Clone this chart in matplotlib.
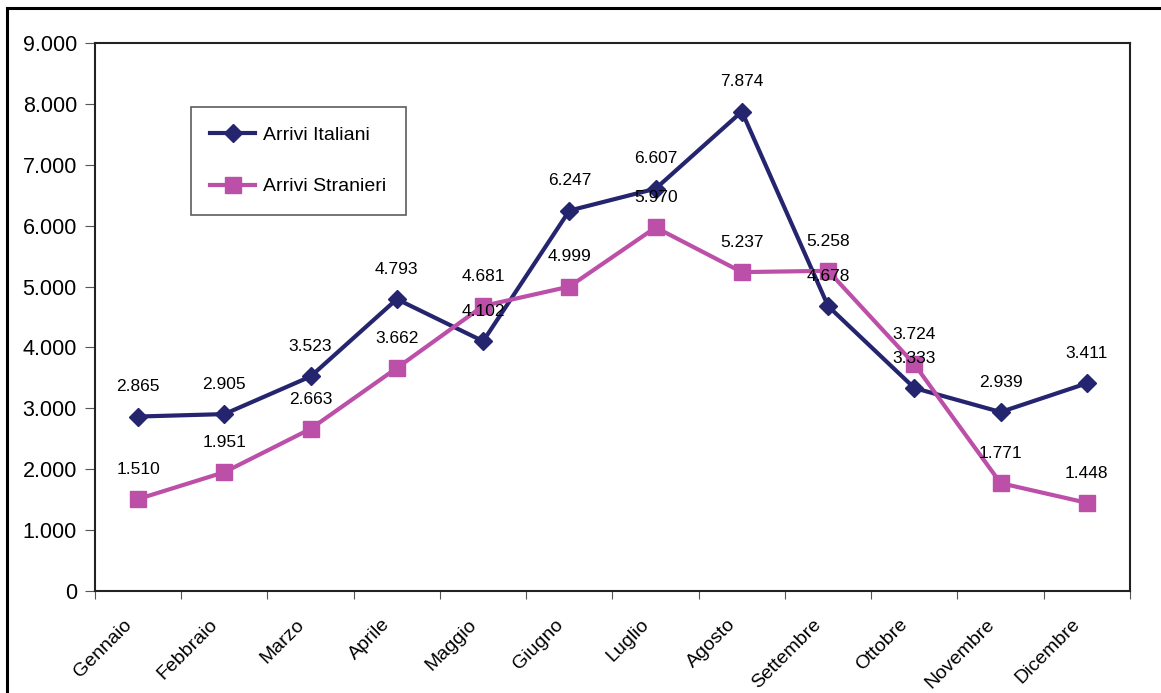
import numpy as np
import matplotlib.pyplot as plt
import matplotlib.transforms as mtransforms
from matplotlib.ticker import FuncFormatter

plt.rcParams['font.family'] = ['Liberation Sans', 'DejaVu Sans']

mesi = ["Gennaio", "Febbraio", "Marzo", "Aprile", "Maggio", "Giugno",
        "Luglio", "Agosto", "Settembre", "Ottobre", "Novembre", "Dicembre"]
italiani = [2865, 2905, 3523, 4793, 4102, 6247, 6607, 7874, 4678, 3333, 2939, 3411]
stranieri = [1510, 1951, 2663, 3662, 4681, 4999, 5970, 5237, 5258, 3724, 1771, 1448]

col_ita = "#25256F"
col_str = "#BC4FA8"

fig = plt.figure(figsize=(11.61, 6.93), dpi=100)
ax = fig.add_axes([0.0818, 0.1472, 0.8915, 0.7908])

x = np.arange(len(mesi))
ax.plot(x, italiani, color=col_ita, lw=3, marker="D", ms=9, label="Arrivi Italiani")
ax.plot(x, stranieri, color=col_str, lw=3, marker="s", ms=11, label="Arrivi Stranieri")


def fmt(v, pos=None):
    return f"{int(v):,}".replace(",", ".")


for serie in (italiani, stranieri):
    for xi, v in zip(x, serie):
        ax.annotate(fmt(v), (xi, v), xytext=(0, 16), textcoords="offset points",
                    ha="center", va="bottom", fontsize=12.5)

ax.set_xlim(-0.5, len(mesi) - 0.5)
ax.set_ylim(0, 9000)
ax.set_yticks(np.arange(0, 9001, 1000))
ax.yaxis.set_major_formatter(FuncFormatter(fmt))
ax.set_xticks(np.arange(-0.5, len(mesi), 1))
ax.set_xticklabels([])
ax.set_xticks(x, minor=True)
ax.set_xticklabels(mesi, minor=True, rotation=45, ha="right", rotation_mode="anchor",
                   fontsize=14)
ax.tick_params(axis="x", which="minor", length=0, pad=18)
ax.tick_params(axis="x", which="major", length=6, direction="out", color="#555555")
ax.tick_params(axis="y", length=7, direction="out", labelsize=15.5, pad=6, color="#555555")
shift = mtransforms.ScaledTranslation(-15 / 100, 0, fig.dpi_scale_trans)
for lab in ax.get_xticklabels(minor=True):
    lab.set_transform(lab.get_transform() + shift)
for s in ax.spines.values():
    s.set_linewidth(1.5)
    s.set_color("#222222")

leg = ax.legend(loc="upper left", bbox_to_anchor=(0.0928, 0.883), frameon=True,
                fancybox=False, edgecolor="#333333", fontsize=14, labelspacing=1.73,
                borderpad=1.0, handlelength=2.3, handletextpad=0.4, borderaxespad=0)
leg.get_frame().set_linewidth(1.2)

fig.patches.append(plt.Rectangle((7 / 1161, -0.05), 1.2, 1 - 8 / 693 + 0.05,
                                 transform=fig.transFigure, fill=False,
                                 edgecolor="black", lw=2.2))

fig.savefig("out.png", dpi=100)
